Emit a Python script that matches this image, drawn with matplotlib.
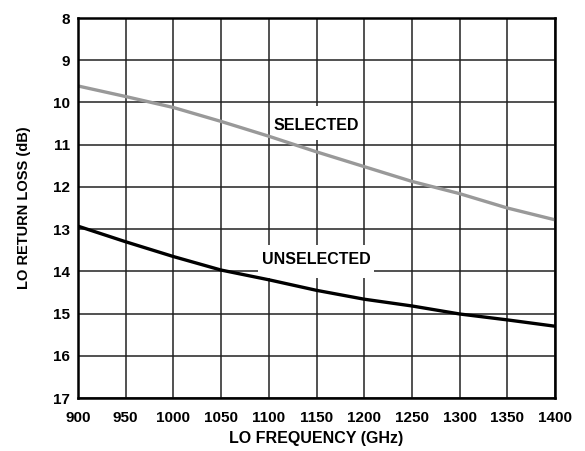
import matplotlib
matplotlib.use("Agg")
import matplotlib.pyplot as plt
from matplotlib.patches import Rectangle

plt.rcParams["font.family"] = ["Liberation Sans", "DejaVu Sans"]
plt.rcParams["font.weight"] = "bold"

# data
freq = [900, 950, 1000, 1050, 1100, 1150, 1200, 1250, 1300, 1350, 1400]
selected = [9.61, 9.86, 10.12, 10.45, 10.8, 11.17, 11.52, 11.87, 12.16, 12.5, 12.78]
unselected = [12.93, 13.3, 13.65, 13.97, 14.2, 14.45, 14.66, 14.82, 15.01, 15.15, 15.3]

x_ticks = [900, 950, 1000, 1050, 1100, 1150, 1200, 1250, 1300, 1350, 1400]
y_ticks = [8, 9, 10, 11, 12, 13, 14, 15, 16, 17]

fig = plt.figure(figsize=(5.85, 4.51), dpi=100)
ax = fig.add_axes([78 / 585, 1 - 398 / 451, (555 - 78) / 585, (398 - 18) / 451])

ax.plot(freq, selected, color="#999999", lw=2.4, zorder=4, solid_capstyle="butt")
ax.plot(freq, unselected, color="black", lw=2.4, zorder=4, solid_capstyle="butt")

ax.set_xlim(900, 1400)
ax.set_ylim(17, 8)
ax.set_xticks(x_ticks)
ax.set_yticks(y_ticks)
ax.tick_params(length=0, labelsize=11)
ax.tick_params(axis="x", pad=9)
ax.tick_params(axis="y", pad=5.5)
for lab in ax.get_xticklabels() + ax.get_yticklabels():
    lab.set_fontweight("bold")

ax.grid(True, color="#222222", lw=1.1, zorder=1)
ax.set_axisbelow(True)
for s in ax.spines.values():
    s.set_linewidth(1.8)
    s.set_zorder(5)

ax.set_xlabel("LO FREQUENCY (GHz)", fontsize=11.5, fontweight="bold", labelpad=5)
ax.set_ylabel("LO RETURN LOSS (dB)", fontsize=10.5, fontweight="bold", labelpad=16)

# white label boxes that blank out the grid behind the labels
ax.add_patch(Rectangle((1103, 10.09), 95, 0.8, facecolor="white",
                       edgecolor="none", zorder=2))
ax.add_patch(Rectangle((1089, 13.38), 121, 0.78, facecolor="white",
                       edgecolor="none", zorder=2))
ax.text(1150, 10.54, "SELECTED", ha="center", va="center", fontsize=11.5,
        fontweight="bold", zorder=3)
ax.text(1150, 13.72, "UNSELECTED", ha="center", va="center", fontsize=11.5,
        fontweight="bold", zorder=3)

fig.savefig("out.png", dpi=100)
